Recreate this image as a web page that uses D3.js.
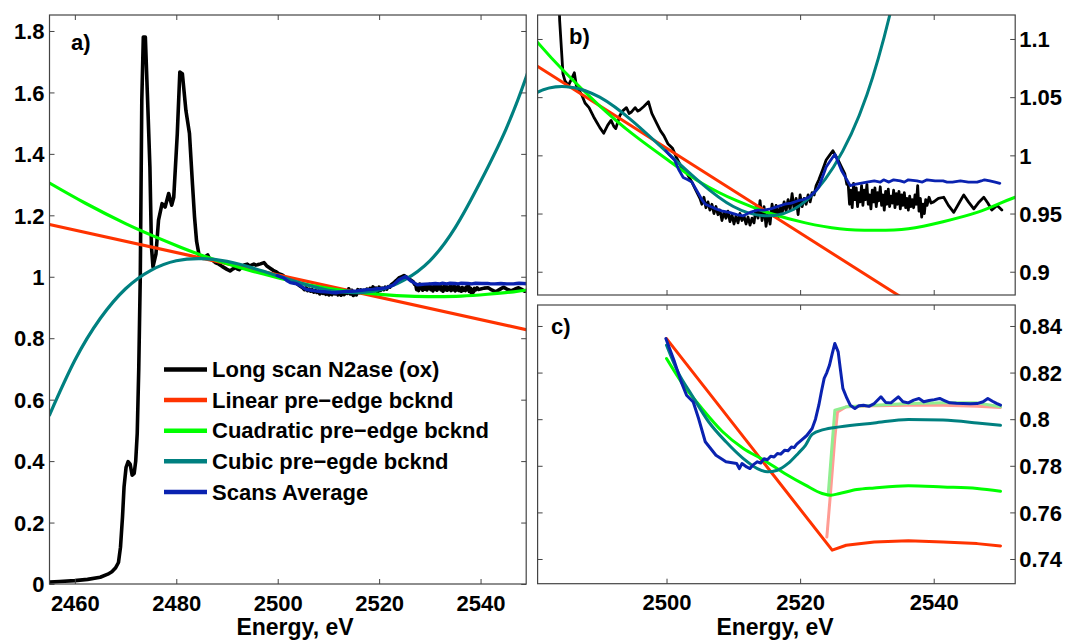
<!DOCTYPE html>
<html>
<head>
<meta charset="utf-8">
<script src="https://cdn.jsdelivr.net/npm/d3@7"></script>
<style>
body { margin: 0; background: #fff; }
svg { font-family: "Liberation Sans", Arial, sans-serif; font-weight: bold; }
.axis path.domain { display: none; }
.axis line { stroke: #444; }
.axis text { font-size: 22px; fill: #000; }
</style>
</head>
<body>
<svg id="chart" width="1069" height="643"></svg>
<script>
"use strict"

// ---- data: [energy eV, value] ----
const longScan = [
	[2455.0,0.006],[2457,0.008],[2460,0.011],[2462.5,0.015],[2465,0.022],[2466.5,0.032],[2467.3,0.040],
	[2468.0,0.052],[2468.6,0.070],[2469.0,0.12],[2469.4,0.219],[2469.7,0.316],[2470.1,0.38],[2470.5,0.398],
	[2470.9,0.39],[2471.3,0.354],[2471.7,0.36],[2472.0,0.40],[2472.3,0.49],[2472.6,0.70],[2472.9,1.0],
	[2473.2,1.574],[2473.5,1.78],[2473.9,1.78],[2474.3,1.596],[2474.8,1.357],[2475.1,1.10],[2475.4,1.032],
	[2476.0,1.075],[2476.5,1.184],[2477.2,1.238],[2477.8,1.227],[2478.5,1.271],[2479.1,1.233],[2479.5,1.259],
	[2480.2,1.466],[2480.7,1.666],[2481.2,1.661],[2481.9,1.541],[2482.6,1.466],[2483.2,1.30],[2483.6,1.194],
	[2484.0,1.116],[2484.5,1.07],[2484.8,1.064],[2485.3,1.060],[2485.8,1.066],[2486.2,1.071],[2486.5,1.060],
	[2486.8,1.057],[2487.3,1.052],[2487.8,1.045],[2488.4,1.041],[2489.1,1.033],[2489.6,1.028],[2490.0,1.024],
	[2490.6,1.019],[2491.2,1.026],[2491.7,1.030],[2492.1,1.025],[2492.4,1.023],[2493.0,1.034],[2493.4,1.038],
	[2494.0,1.041],[2494.4,1.036],[2494.7,1.037],[2495.3,1.041],[2495.7,1.038],[2496.0,1.039],[2496.6,1.042],
	[2497.3,1.046],[2497.8,1.036],[2498.5,1.028],[2499.1,1.021],[2499.6,1.017],[2500.2,1.010],[2500.9,1.006],
	[2501.5,0.998],[2502.2,0.990],[2503.0,0.985],[2503.8,0.977],[2504.4,0.970],
	[2505.0,0.963],[2505.3,0.958],[2505.6,0.964],[2505.9,0.955],[2506.2,0.960],[2506.5,0.953],[2506.8,0.958],
	[2507.1,0.950],[2507.4,0.956],[2507.7,0.949],[2508.0,0.953],[2508.3,0.944],[2508.6,0.951],[2508.9,0.946],
	[2509.2,0.952],[2509.5,0.943],[2509.8,0.949],[2510.1,0.941],[2510.4,0.948],[2510.7,0.942],[2511.0,0.950],
	[2511.3,0.944],[2511.6,0.948],[2511.9,0.941],[2512.2,0.947],[2512.5,0.940],[2512.8,0.946],[2513.1,0.942],
	[2513.4,0.955],[2513.7,0.946],[2514.0,0.961],[2514.3,0.944],[2514.6,0.956],[2514.9,0.939],[2515.2,0.951],
	[2515.5,0.941],[2515.8,0.958],[2516.1,0.948],[2516.4,0.957],[2516.7,0.947],[2517.0,0.956],[2517.3,0.950],
	[2517.6,0.960],[2517.9,0.952],[2518.2,0.962],[2518.5,0.953],[2518.8,0.967],[2519.1,0.954],[2519.4,0.963],
	[2519.7,0.949],[2520.0,0.966],[2520.3,0.956],[2520.6,0.963],[2520.9,0.958],[2521.2,0.966],[2521.5,0.960],
	[2521.8,0.968],[2522.1,0.966],[2522.4,0.974],[2522.8,0.979],[2523.4,0.988],[2523.9,0.996],[2524.4,1.000],
	[2524.9,1.004],[2525.3,1.000],[2525.7,0.996],[2526.2,0.990],[2526.7,0.984],[2527.0,0.975],
	[2527.2,0.975],[2527.4,0.958],[2527.6,0.970],[2527.8,0.955],[2528.0,0.976],[2528.2,0.962],[2528.4,0.972],
	[2528.6,0.956],[2528.8,0.968],[2529.0,0.960],[2529.2,0.974],[2529.4,0.957],[2529.6,0.970],[2529.8,0.962],
	[2530.0,0.975],[2530.2,0.958],[2530.4,0.966],[2530.6,0.954],[2530.8,0.970],[2531.0,0.960],[2531.2,0.972],
	[2531.4,0.956],[2531.6,0.968],[2531.8,0.961],[2532.0,0.973],[2532.2,0.957],[2532.4,0.966],[2532.6,0.953],
	[2532.8,0.969],[2533.0,0.958],[2533.2,0.971],[2533.4,0.956],[2533.6,0.965],[2533.8,0.959],[2534.0,0.970],
	[2534.2,0.955],[2534.4,0.967],[2534.6,0.958],[2534.8,0.969],[2535.0,0.954],[2535.2,0.966],[2535.4,0.957],
	[2535.6,0.968],[2535.8,0.955],[2536.0,0.963],[2536.2,0.953],[2536.4,0.965],[2536.6,0.956],[2536.8,0.962],
	[2537.0,0.955],[2537.2,0.966],[2537.4,0.958],[2537.6,0.974],[2537.8,0.952],[2538.0,0.963],[2538.2,0.947],
	[2538.4,0.958],[2538.6,0.950],[2538.8,0.962],[2539.0,0.957],[2539.3,0.964],[2539.6,0.959],[2540.0,0.960],
	[2540.7,0.963],[2541.5,0.964],[2542.2,0.957],[2543.0,0.951],[2543.8,0.959],[2544.5,0.966],[2545.2,0.960],
	[2546.0,0.954],[2546.8,0.960],[2547.5,0.964],[2548.1,0.959],[2548.7,0.953],[2549.1,0.955],[2549.5,0.957],
	[2550.2,0.953]
];

const scansAverage = [
	[2499.9,1.004],[2500.5,1.000],[2501.2,0.996],[2501.8,0.988],[2502.5,0.981],[2503.2,0.979],[2503.8,0.977],
	[2504.3,0.972],[2504.8,0.967],[2505.3,0.962],[2505.8,0.958],[2506.6,0.956],[2507.4,0.954],[2508.4,0.952],
	[2509.4,0.951],[2510.5,0.949],[2511.5,0.948],[2512.5,0.951],[2513.6,0.953],[2514.6,0.953],[2515.6,0.954],
	[2516.6,0.956],[2517.7,0.958],[2518.7,0.959],[2519.7,0.961],[2520.5,0.962],[2521.3,0.964],[2522.1,0.968],
	[2522.8,0.973],[2523.4,0.982],[2523.9,0.990],[2524.6,0.996],[2525.2,1.001],[2525.7,0.994],[2526.2,0.987],
	[2526.9,0.980],[2527.5,0.974],[2528.2,0.975],[2529.0,0.976],[2530.0,0.977],[2531.1,0.978],[2532.0,0.977],
	[2532.5,0.979],[2533.3,0.977],[2534.0,0.979],[2535.0,0.978],[2535.6,0.977],[2536.2,0.979],[2537.5,0.978],
	[2538.3,0.977],[2539.0,0.979],[2540.2,0.978],[2541.4,0.978],[2542.0,0.977],[2542.8,0.977],[2544.0,0.978],
	[2545.2,0.977],[2546.5,0.977],[2547.1,0.978],[2547.6,0.979],[2548.4,0.978],[2549.2,0.977],[2549.9,0.976]
];

const linearBg = [[2455,1.170],[2552.2,0.816]];

const quadraticBg = [
	[2455,1.305],[2462,1.240],[2470,1.173],[2476,1.129],[2480.7,1.097],[2484.7,1.072],[2489.9,1.043],
	[2495.0,1.018],[2500.2,0.996],[2505.3,0.976],[2510.5,0.961],[2515.6,0.950],[2520.8,0.942],[2525.9,0.937],
	[2531.1,0.9356],[2536.2,0.937],[2541.4,0.943],[2546.5,0.951],[2550,0.959],[2552.2,0.964]
];

const cubicBg = [
	[2455,0.550],[2460,0.728],[2465,0.864],[2470,0.961],[2475,1.021],[2480,1.052],[2485,1.059],[2490,1.050],
	[2495,1.029],[2500,1.003],[2505,0.977],[2510,0.956],[2515,0.948],[2520,0.957],[2525,0.990],[2530,1.052],
	[2535,1.160],[2540,1.310],[2545,1.480],[2549,1.650],[2552,1.800]
];

// panel c
const cLinear = [
	[2500,0.8346],[2524.8,0.7438],[2526.9,0.7459],[2531.1,0.7473],[2536.2,0.7478],[2541.4,0.7473],
	[2546.5,0.7466],[2550,0.7456]
];
const cLinearStep = [
	[2524.0,0.7494],[2524.6,0.770],[2525.2,0.792],[2525.6,0.8031],[2526.9,0.8053],[2531.1,0.8058],
	[2536.2,0.8060],[2541.4,0.8060],[2546.5,0.8055],[2550,0.8050]
];
const cQuadratic = [
	[2500,0.826],[2502.2,0.816],[2505.3,0.8046],[2508.4,0.7946],[2511.5,0.7874],[2514.6,0.7824],
	[2517.7,0.7767],[2520.8,0.7717],[2523.3,0.7681],[2524.6,0.7674],[2525.9,0.7681],[2528.5,0.7698],
	[2531.1,0.7705],[2536.2,0.7714],[2541.4,0.7709],[2546.5,0.7703],[2550,0.7691]
];
const cQuadraticStep = [
	[2524.2,0.7674],[2524.7,0.786],[2525.2,0.8039],[2526.9,0.8053],[2531.1,0.8060],[2536.2,0.8067],
	[2541.4,0.8070],[2546.5,0.8070],[2550,0.8053]
];
const cCubic = [
	[2500,0.8318],[2501.7,0.8203],[2503.8,0.8103],[2506.3,0.7989],[2508.9,0.7903],[2511.5,0.7831],
	[2513.6,0.7788],[2515.1,0.7774],[2516.6,0.7781],[2518.2,0.7810],[2519.7,0.7853],[2520.8,0.7888],
	[2521.8,0.7935],[2523.5,0.7955],[2525.9,0.7967],[2531.1,0.7984],[2536.2,0.7999],[2541.4,0.7996],
	[2546.5,0.7984],[2550,0.7974]
];
const cAverage = [
	[2499.9,0.8346],[2501.2,0.8246],[2502.2,0.8160],[2503.0,0.8103],[2504.0,0.8074],[2504.8,0.8003],
	[2505.8,0.7903],[2507.4,0.7845],[2508.9,0.7817],[2510.5,0.7810],[2510.9,0.7788],[2511.3,0.7810],
	[2512.0,0.7795],[2512.5,0.7788],[2513.0,0.7805],[2513.6,0.7817],[2514.1,0.7812],[2514.6,0.7830],
	[2515.1,0.7826],[2515.6,0.7841],[2516.1,0.7838],[2516.6,0.7853],[2517.1,0.7850],[2517.7,0.7867],
	[2518.2,0.7865],[2518.7,0.7881],[2519.1,0.7878],[2519.5,0.7893],[2520.2,0.7910],[2521.0,0.7930],
	[2521.8,0.7960],[2522.3,0.8000],[2522.8,0.8060],[2523.2,0.8120],[2523.6,0.8175],[2524.0,0.8200],
	[2524.4,0.8232],[2524.8,0.8280],[2525.2,0.8325],[2525.7,0.8289],[2526.0,0.8220],[2526.4,0.8132],
	[2527.0,0.8090],[2527.5,0.8060],[2528.2,0.8046],[2528.8,0.8058],[2529.5,0.8060],[2530.3,0.8055],
	[2531.1,0.8067],[2532.1,0.8096],[2532.8,0.8072],[2533.6,0.8070],[2534.7,0.8096],[2535.4,0.8075],
	[2536.2,0.8070],[2537.0,0.8082],[2537.8,0.8089],[2538.5,0.8075],[2539.3,0.8080],[2540.1,0.8084],
	[2540.9,0.8089],[2541.6,0.8080],[2542.4,0.8070],[2543.4,0.8068],[2544.4,0.8067],[2545.5,0.8066],
	[2546.5,0.8067],[2547.4,0.8075],[2548.1,0.8089],[2548.8,0.8077],[2549.4,0.8068],[2550.0,0.8060]
];

const legendLabels = ["Long scan N2ase (ox)", "Linear pre\u2212edge bcknd", "Cuadratic pre\u2212edge bcknd",
	"Cubic pre\u2212egde bcknd", "Scans Average"];

const ticksA_x = [2460, 2480, 2500, 2520, 2540];
const ticksA_y = [0, 0.2, 0.4, 0.6, 0.8, 1, 1.2, 1.4, 1.6, 1.8];
const ticksBC_x = [2500, 2520, 2540];
const ticksB_y = [0.9, 0.95, 1, 1.05, 1.1];
const ticksC_y = [0.74, 0.76, 0.78, 0.8, 0.82, 0.84];

const colors = {
	scan: "#000000", lin: "#ff3300", quad: "#00ff00", cubic: "#008080", avg: "#0a22b0",
	linStep: "#ff9c94", quadStep: "#90ee90"
};

const svg = d3.select("#chart");
const fmt = d3.format("~g");

function makePanel(id, box, xDom, yDom, xTicks, yTicks, yRight, xLabels) {
	let x = d3.scaleLinear().domain(xDom).range([box.l, box.r]);
	let y = d3.scaleLinear().domain(yDom).range([box.b, box.t]);

	svg.append("clipPath").attr("id", "clip" + id)
		.append("rect")
			.attr("x", box.l).attr("y", box.t)
			.attr("width", box.r - box.l).attr("height", box.b - box.t);

	let g = svg.append("g").attr("clip-path", "url(#clip" + id + ")");

	// box and inside ticks on all four sides
	svg.append("rect")
		.attr("x", box.l).attr("y", box.t)
		.attr("width", box.r - box.l).attr("height", box.b - box.t)
		.attr("fill", "none").attr("stroke", "#444").attr("stroke-width", 1.2);

	svg.append("g").attr("class", "axis xax")
		.attr("transform", `translate(0,${box.b})`)
		.call(d3.axisBottom(x).tickValues(xTicks).tickSize(-5).tickSizeOuter(0).tickPadding(11)
			.tickFormat(xLabels ? fmt : ""));
	svg.append("g").attr("class", "axis xax")
		.attr("transform", `translate(0,${box.t})`)
		.call(d3.axisTop(x).tickValues(xTicks).tickSize(-5).tickSizeOuter(0).tickFormat(""));

	svg.append("g").attr("class", "axis yax")
		.attr("transform", `translate(${box.l},0)`)
		.call(d3.axisLeft(y).tickValues(yTicks).tickSize(-5).tickSizeOuter(0).tickPadding(5)
			.tickFormat(yRight ? "" : fmt));
	svg.append("g").attr("class", "axis yax")
		.attr("transform", `translate(${box.r},0)`)
		.call(d3.axisRight(y).tickValues(yTicks).tickSize(-5).tickSizeOuter(0).tickPadding(4)
			.tickFormat(yRight ? fmt : ""));

	svg.selectAll(".xax text").attr("dy", "0.71em");
	svg.selectAll(".yax text").attr("dy", "0.35em");

	return {x, y, g};
}

function drawLine(p, data, color, width, curve) {
	p.g.append("path")
		.datum(data)
		.attr("fill", "none")
		.attr("stroke", color)
		.attr("stroke-width", width)
		.attr("stroke-linejoin", "round")
		.attr("stroke-linecap", "round")
		.attr("d", d3.line().x(d => p.x(d[0])).y(d => p.y(d[1])).curve(curve || d3.curveLinear));
}

// ---- panel a ----
let pa = makePanel("a", {l: 49.5, r: 526.2, t: 15, b: 584}, [2455, 2549], [0, 1.852],
	ticksA_x, ticksA_y, false, true);
drawLine(pa, longScan, colors.scan, 3.6);
drawLine(pa, linearBg, colors.lin, 3.2);
drawLine(pa, quadraticBg, colors.quad, 3.2, d3.curveNatural);
drawLine(pa, cubicBg, colors.cubic, 3.2, d3.curveNatural);
drawLine(pa, scansAverage, colors.avg, 3.4);

// ---- panel b ----
let pb = makePanel("b", {l: 537.6, r: 1015.2, t: 15, b: 295}, [2480.7, 2552.2], [0.880, 1.1206],
	ticksBC_x, ticksB_y, true, false);
drawLine(pb, longScan, colors.scan, 2.8);
drawLine(pb, linearBg, colors.lin, 3);
drawLine(pb, quadraticBg, colors.quad, 3, d3.curveNatural);
drawLine(pb, cubicBg, colors.cubic, 3, d3.curveNatural);
drawLine(pb, scansAverage, colors.avg, 2.8);

// ---- panel c ----
let pc = makePanel("c", {l: 537.6, r: 1015.2, t: 305, b: 583.7}, [2480.7, 2552.2], [0.7294, 0.849],
	ticksBC_x, ticksC_y, true, true);
drawLine(pc, cLinearStep, colors.linStep, 3);
drawLine(pc, cQuadraticStep, colors.quadStep, 3);
drawLine(pc, cLinear, colors.lin, 3);
drawLine(pc, cQuadratic, colors.quad, 3, d3.curveMonotoneX);
drawLine(pc, cCubic, colors.cubic, 3, d3.curveMonotoneX);
drawLine(pc, cAverage, colors.avg, 3);

// panel letters
[["a)", 71, 50], ["b)", 569, 44], ["c)", 551, 334]].forEach(t => {
	svg.append("text").attr("x", t[1]).attr("y", t[2])
		.attr("font-size", 22).text(t[0]);
});

// x labels
svg.append("text").attr("x", 295).attr("y", 635).attr("text-anchor", "middle")
	.attr("font-size", 23).text("Energy, eV");
svg.append("text").attr("x", 775).attr("y", 635).attr("text-anchor", "middle")
	.attr("font-size", 23).text("Energy, eV");

// legend
let legendColors = [colors.scan, colors.lin, colors.quad, colors.cubic, colors.avg];
let legend = svg.append("g").selectAll("g")
	.data(legendLabels)
	.enter().append("g")
		.attr("transform", (d, i) => "translate(0," + (369.5 + i * 30.6) + ")");
legend.append("line")
	.attr("x1", 164).attr("x2", 207)
	.attr("stroke", (d, i) => legendColors[i])
	.attr("stroke-width", 4.5);
legend.append("text")
	.attr("x", 212).attr("dy", "0.35em")
	.attr("font-size", 22)
	.text(d => d);
</script>
</body>
</html>
